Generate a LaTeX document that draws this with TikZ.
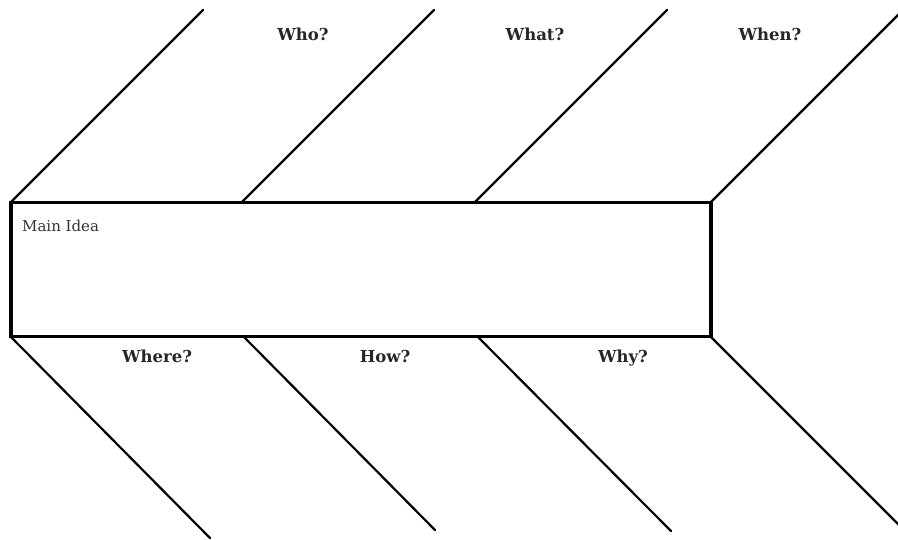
\documentclass[tikz,border=0pt]{standalone}
\usepackage{fontspec}
\setmainfont{DejaVu Serif}
\begin{document}
\begin{tikzpicture}[x=1pt,y=-1pt,
  bone/.style={line width=2.2pt, line cap=round},
  q/.style={font=\fontsize{16.5}{18}\selectfont\bfseries, text=black!85, inner sep=0pt, anchor=base}]
\useasboundingbox (0,0) rectangle (898,539);
\node[draw, line width=3.5pt, minimum width=700pt, minimum height=134pt, inner sep=0pt] (main) at (361,269.5) {};
\node[anchor=base west, font=\fontsize{15}{17}\selectfont, text=black!80, inner sep=0pt] (mi) at (22,231) {Main Idea};
% top bone bases and tips
\coordinate (t1) at (11,202);  \coordinate (T1) at (203,10);
\coordinate (t2) at (242,202); \coordinate (T2) at (434,10);
\coordinate (t3) at (475,202); \coordinate (T3) at (667,10);
\coordinate (t4) at (711,202); \coordinate (T4) at (899,14);
% bottom bone bases and tips
\coordinate (b1) at (11,337);  \coordinate (B1) at (210,538);
\coordinate (b2) at (244,337); \coordinate (B2) at (435,530);
\coordinate (b3) at (478,337); \coordinate (B3) at (671,531);
\coordinate (b4) at (711,337); \coordinate (B4) at (899,525);
\foreach \i in {1,2,3,4}{
  \draw[bone] (t\i) -- (T\i);
  \draw[bone] (b\i) -- (B\i);
}
\node[q] (who) at (303,40) {Who?};
\node[q] (what) at (535,40) {What?};
\node[q] (when) at (770,40) {When?};
\node[q] (where) at (157,362) {Where?};
\node[q] (how) at (385,362) {How?};
\node[q] (why) at (623,362) {Why?};
\end{tikzpicture}
\end{document}
